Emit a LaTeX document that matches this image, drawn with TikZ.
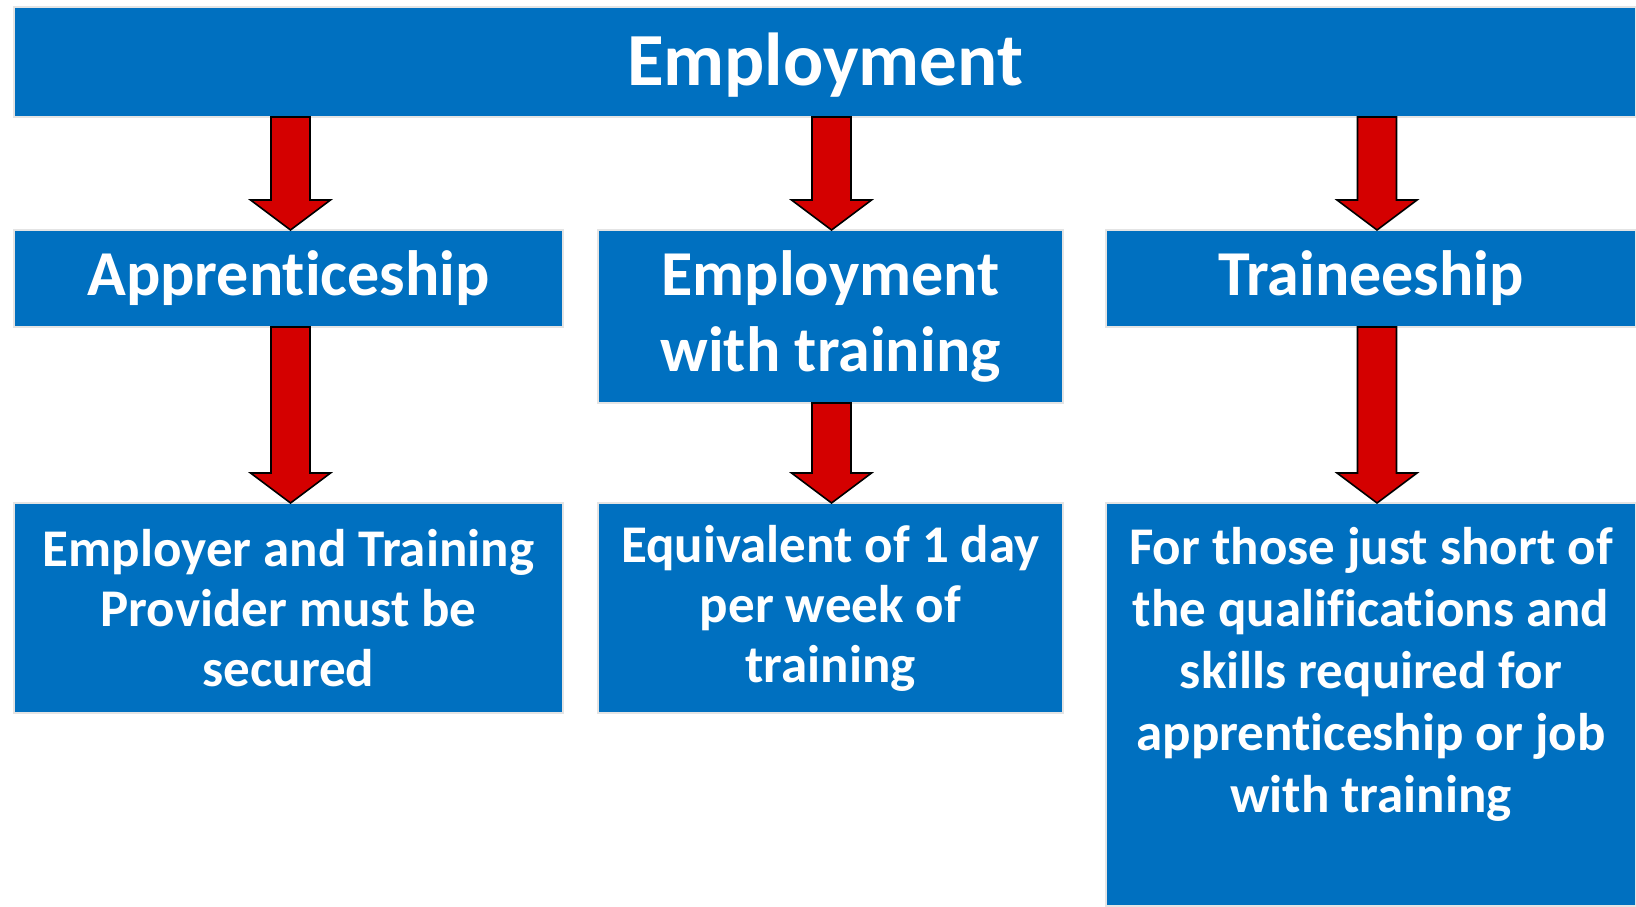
\documentclass[tikz,border=0pt]{standalone}
\usepackage{fontspec}
\setmainfont{Carlito}[Ligatures=NoCommon]
\usetikzlibrary{calc,positioning}
\definecolor{boxblue}{RGB}{0,112,192}
\definecolor{boxedge}{RGB}{228,228,228}
\definecolor{arrowred}{RGB}{212,0,0}
\newcommand{\redarrow}[3][0]{%
  \draw[redarrow] let \p1=(#2.south), \p2=(#3.north) in
    ({\x2+#1pt-19.5pt},\y1) -- ({\x2+#1pt+19.5pt},\y1)
    -- ({\x2+#1pt+19.5pt},{\y2+30pt}) -- ({\x2+#1pt+40pt},{\y2+30pt})
    -- ({\x2+#1pt},\y2)
    -- ({\x2+#1pt-40pt},{\y2+30pt}) -- ({\x2+#1pt-19.5pt},{\y2+30pt}) -- cycle;}
\begin{document}
\begin{tikzpicture}[x=1pt,y=1pt,
    box/.style={rectangle,fill=boxblue,draw=boxedge,line width=2pt,
      inner sep=0pt,outer sep=0pt,text=white,align=center,font=\bfseries},
    title/.style={font=\bfseries\fontsize{75}{88}\selectfont,text height=64pt,text depth=16pt},
    mid/.style={font=\bfseries\fontsize{64}{76}\selectfont},
    low/.style={font=\bfseries\fontsize{53}{60}\selectfont},
    redarrow/.style={fill=arrowred,draw=black,line width=1.6pt}]
  \useasboundingbox (0,0) rectangle (1636,906);
  \fill[white] (0,0) rectangle (1636,906);
  \node[box,title,minimum width=1622,minimum height=110] (top) at (825,844) {Employment};
  \node[box,mid,minimum width=549,minimum height=97] (app) at (288.5,627.5) {Apprenticeship};
  \node[box,mid,minimum width=465,minimum height=173] (ewt) at (830.5,589.5) {Employment\\with training};
  \node[box,mid,minimum width=530,minimum height=97] (trn) at (1371,627.5) {Traineeship};
  \node[box,low,minimum width=549,minimum height=210] (emp) at (288.5,298) {Employer and Training\\Provider must be\\secured};
  \node[box,low,minimum width=465,minimum height=210] (eqv) at (830.5,298) {Equivalent of 1 day\\per week of\\training};
  \node[box,minimum width=530,minimum height=403] (fts) at (1371,201.5) {};
  \node[low,text=white,align=center,inner sep=0pt,below=24pt of fts.north,
    font=\bfseries\fontsize{53}{62}\selectfont] (ftstxt)
    {For those just short of\\the qualifications and\\skills required for\\apprenticeship or job\\with training};
  \redarrow[2]{top}{app}
  \redarrow[1]{top}{ewt}
  \redarrow[6]{top}{trn}
  \redarrow[2]{app}{emp}
  \redarrow[1]{ewt}{eqv}
  \redarrow[6]{trn}{fts}
\end{tikzpicture}
\end{document}
